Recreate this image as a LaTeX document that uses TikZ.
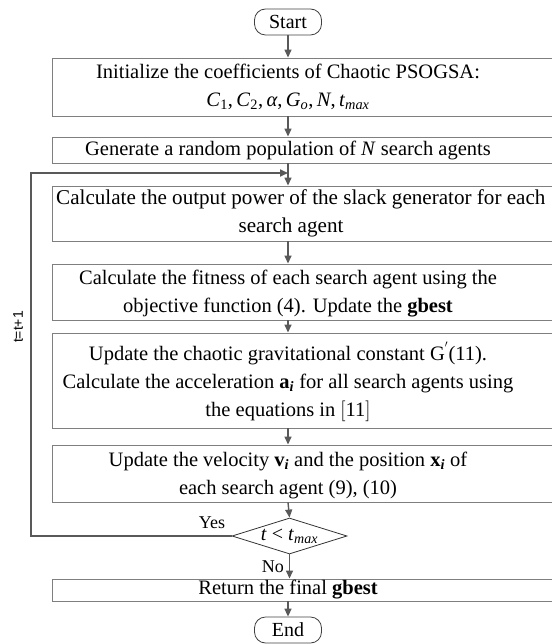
\documentclass[tikz,border=0pt]{standalone}
\usepackage{fontspec}
\setmainfont{Liberation Serif}
\newfontfamily\labelfont{Liberation Sans}
\usetikzlibrary{arrows.meta, positioning, shapes.geometric, calc}
\definecolor{edge}{HTML}{7F7F7F}
\definecolor{flow}{HTML}{595959}
\newcommand{\var}[1]{\textit{#1}}
\newcommand{\idx}[1]{\textsubscript{#1}}

\begin{document}
\begin{tikzpicture}[x=1pt,y=-1pt,
    box/.style={draw=edge,line width=0.9pt,minimum width=510pt,inner sep=0pt},
    term/.style={draw=black!75,line width=0.8pt,rounded corners=11pt,minimum width=67pt,minimum height=26pt,inner sep=0pt,font=\fontsize{20}{24}\selectfont},
    t/.style={align=center,font=\fontsize{20.5}{28}\selectfont,inner sep=0pt},
    ar/.style={draw=flow,line width=1.4pt,-{Triangle[length=8pt,width=7pt]}},
    lbl/.style={font=\fontsize{18}{20}\selectfont,inner sep=1pt}]
  \useasboundingbox (0,0) rectangle (551,644);
  \node[term] (start) at (288,22) {Start};
  \node[box,minimum height=58pt] (b1) at (307,87) {};
  \node[t] (t1) at (288,87) {Initialize the coefficients of Chaotic PSOGSA:\\
    \var{C}\idx{1},\,\var{C}\idx{2},\,\var{α},\,\var{G}\idx{\var{o}},\,\var{N},\,\var{t}\idx{\var{max}}};
  \node[box,minimum height=26pt] (b2) at (307,150) {};
  \node[t] (t2) at (288,150) {Generate a random population of \var{N} search agents};
  \node[box,minimum height=55pt] (b3) at (307,213.5) {};
  \node[t,font=\fontsize{21.1}{28}\selectfont,anchor=west] (t3a) at (56,199) {Calculate the output power of the slack generator for each};
  \node[t,font=\fontsize{21.1}{28}\selectfont] (t3b) at (291,227) {search agent};
  \node[box,minimum height=56pt] (b4) at (307,292) {};
  \node[t] (t4) at (288,294) {Calculate the fitness of each search agent using the\\
    objective function (4). Update the \textbf{gbest}};
  \node[box,minimum height=95pt] (b5) at (307,380.5) {};
  \node[t] (t5) at (288,382) {Update the chaotic gravitational constant G\textsuperscript{$'$}(11).\\
    Calculate the acceleration \textbf{a}\idx{\textbf{\var{i}}} for all search agents using\\
    the equations in $\big[$11$\big]$};
  \node[box,minimum height=57pt] (b6) at (307,473.5) {};
  \node[t] (t6) at (288,475) {Update the velocity \textbf{v}\idx{\textbf{\var{i}}} and the position \textbf{x}\idx{\textbf{\var{i}}} of\\
    each search agent (9), (10)};
  \node[diamond,draw=black!80,line width=0.8pt,aspect=3.2,minimum width=115pt,minimum height=36pt,inner sep=0pt,font=\fontsize{20}{24}\selectfont] (cond) at (289.5,536)
    {\var{t} < \var{t}\idx{\var{max}}};
  \node[box,minimum height=22pt] (b7) at (307,590) {};
  \node[t] (t7) at (288,590) {Return the final \textbf{gbest}};
  \node[term] (end) at (288,630) {End};

  % main flow
  \draw[ar] (start) -- (start |- b1.north);
  \draw[ar] (start |- b1.south) -- (start |- b2.north);
  \draw[ar] (start |- b2.south) -- (start |- b3.north);
  \draw[ar] (start |- b3.south) -- (start |- b4.north);
  \draw[ar] (start |- b4.south) -- (start |- b5.north);
  \draw[ar] (start |- b5.south) -- (start |- b6.north);
  \draw[ar] (start |- b6.south) -- (cond.north);
  \draw[ar] (cond.south) -- node[lbl,left=4pt] {No} (cond |- b7.north);
  \draw[ar] (start |- b7.south) -- (end);

  % iteration loop
  \coordinate (back) at (31,173);
  \draw[ar,line width=1.8pt] (cond.west) -- (cond.west -| back) -- (back) -- (start |- back);
  \node[lbl] (yes) at (212,523) {Yes};
  \node[rotate=90,font=\labelfont\fontsize{14}{16}\selectfont,inner sep=0pt] (iter) at (18,327) {t=t+1};
\end{tikzpicture}
\end{document}
